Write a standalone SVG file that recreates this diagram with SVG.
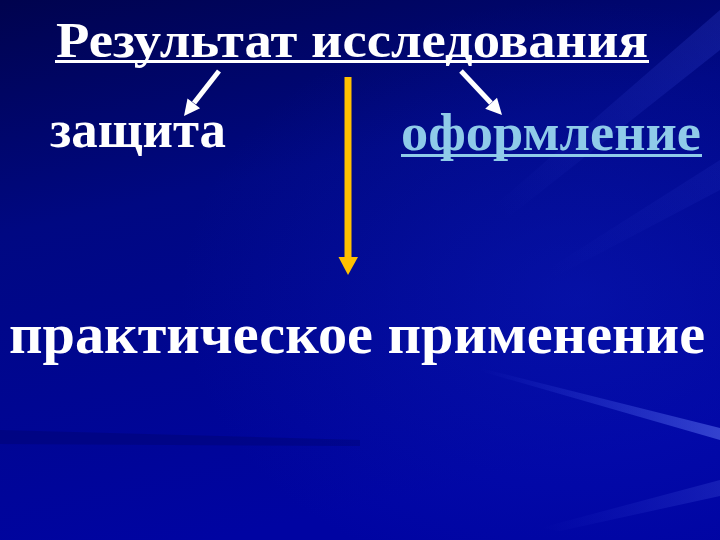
<svg xmlns="http://www.w3.org/2000/svg" width="720" height="540" viewBox="0 0 720 540">
  <defs>
    <linearGradient id="bg" x1="0" y1="0" x2="0.3" y2="1">
      <stop offset="0" stop-color="#00034e"/>
      <stop offset="0.4" stop-color="#000882"/>
      <stop offset="1" stop-color="#0004a2"/>
    </linearGradient>
    <radialGradient id="glow" cx="0.8" cy="0.55" r="0.55">
      <stop offset="0" stop-color="#1024c8" stop-opacity="0.35"/>
      <stop offset="1" stop-color="#1024c8" stop-opacity="0"/>
    </radialGradient>
    <linearGradient id="streak" x1="0" y1="0" x2="1" y2="0">
      <stop offset="0" stop-color="#5068ff" stop-opacity="0"/>
      <stop offset="1" stop-color="#7088ff" stop-opacity="0.45"/>
    </linearGradient>
    <linearGradient id="streak2" x1="1" y1="0" x2="0" y2="0.6">
      <stop offset="0" stop-color="#3a4ce0" stop-opacity="0.25"/>
      <stop offset="1" stop-color="#3a4ce0" stop-opacity="0"/>
    </linearGradient>
    <style>
      .t { font-family: "Liberation Serif", "Times New Roman", serif; font-weight: bold; }
      .w { fill: #ffffff; }
      .b { fill: #8fcbe9; }
      .wline { stroke: #ffffff; stroke-width: 5; fill: none; }
      .whead { fill: #ffffff; }
      .gold { fill: #ffc000; }
    </style>
  </defs>

  <g id="background">
    <rect width="720" height="540" fill="url(#bg)"/>
    <rect width="720" height="540" fill="url(#glow)"/>
    <polygon points="720,10 720,50 480,240 455,240" fill="url(#streak2)"/>
    <polygon points="720,160 720,190 530,290 515,290" fill="url(#streak2)" opacity="0.5"/>
    <polygon points="480,368 720,428 720,440 480,371" fill="url(#streak)"/>
    <polygon points="540,528 720,480 720,496 560,531" fill="url(#streak)" opacity="0.4"/>
    <polygon points="0,430 360,440 360,446 0,444" fill="#000040" opacity="0.2"/>
  </g>

  <g id="title">
    <text class="t w" x="56" y="57" font-size="50" textLength="592" lengthAdjust="spacingAndGlyphs">Результат исследования</text>
    <rect x="55" y="60" width="594" height="3" fill="#ffffff"/>
  </g>

  <g id="zashchita">
    <text class="t w" x="50" y="147" font-size="52" textLength="176" lengthAdjust="spacingAndGlyphs">защита</text>
  </g>

  <g id="oformlenie">
    <text class="t b" x="401" y="150" font-size="52" textLength="300" lengthAdjust="spacingAndGlyphs">оформление</text>
    <rect x="401" y="154" width="301" height="3" fill="#8fcbe9"/>
  </g>

  <g id="prakticheskoe">
    <text class="t w" x="9" y="353" font-size="58" textLength="696" lengthAdjust="spacingAndGlyphs">практическое применение</text>
  </g>

  <g id="connectors">
    <line class="wline" x1="219" y1="71" x2="194" y2="103"/>
    <polygon class="whead" points="184,116 200.1,108.3 187.5,98.5"/>
    <line class="wline" x1="461" y1="71" x2="491" y2="103"/>
    <polygon class="whead" points="502,115 485.2,108.8 497,97.8"/>
    <rect class="gold" x="344.5" y="77" width="7" height="181"/>
    <polygon class="gold" points="338.5,257 358,257 348,275"/>
  </g>
</svg>
